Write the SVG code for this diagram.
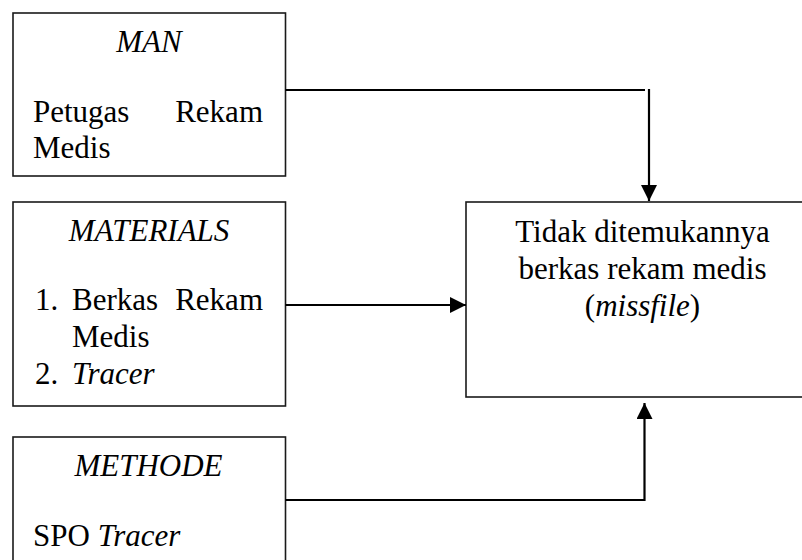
<svg xmlns="http://www.w3.org/2000/svg" width="802" height="560" viewBox="0 0 802 560">
<style>
.box{fill:#fff;stroke:#1a1a1a;stroke-width:1.6}
.t{font-family:'Liberation Serif','Times New Roman',Tinos,'DejaVu Serif',serif;font-size:31px;fill:#000}
.i{font-style:italic}
.c{text-anchor:middle}
.e{text-anchor:end}
.conn path{fill:none;stroke:#000;stroke-width:2.2}
</style>
<defs>
<marker id="arr" markerUnits="userSpaceOnUse" markerWidth="16" markerHeight="16" refX="16" refY="8" orient="auto">
<path d="M0,0 L16,8 L0,16 z" fill="#000"/>
</marker>
</defs>
<rect width="802" height="560" fill="#fff"/>
<g id="man">
<rect class="box" x="13" y="13" width="272.5" height="163"/>
<text class="t i c" x="149" y="52" font-family="Liberation Serif, serif">MAN</text>
<text class="t" x="33" y="121.5" font-family="Liberation Serif, serif">Petugas</text>
<text class="t e" x="263" y="121.5">Rekam</text>
<text class="t" x="33" y="158">Medis</text>
</g>
<g id="materials">
<rect class="box" x="13" y="202" width="272.5" height="204"/>
<text class="t i c" x="149" y="241">MATERIALS</text>
<text class="t" x="35" y="310">1.</text>
<text class="t" x="72" y="310">Berkas</text>
<text class="t e" x="263" y="310">Rekam</text>
<text class="t" x="72" y="346.5">Medis</text>
<text class="t" x="35" y="384">2.</text>
<text class="t i" x="72" y="384">Tracer</text>
</g>
<g id="methode">
<rect class="box" x="13" y="437" width="272.5" height="140"/>
<text class="t i c" x="148.5" y="476">METHODE</text>
<text class="t" x="33" y="545.5">SPO <tspan class="i">Tracer</tspan></text>
</g>
<g id="missfile">
<rect class="box" x="466" y="202" width="350" height="195"/>
<text class="t c" x="642.5" y="241.5">Tidak ditemukannya</text>
<text class="t c" x="642.5" y="278.5">berkas rekam medis</text>
<text class="t c" x="642.5" y="316">(<tspan class="i">missfile</tspan>)</text>
</g>
<g class="conn" id="connectors">
<path d="M285.5,90 H645"/>
<path d="M649,89 V201" marker-end="url(#arr)"/>
<path d="M285.5,305 H466" marker-end="url(#arr)"/>
<path d="M285.5,500 H644.5 V403" marker-end="url(#arr)"/>
</g>
</svg>
